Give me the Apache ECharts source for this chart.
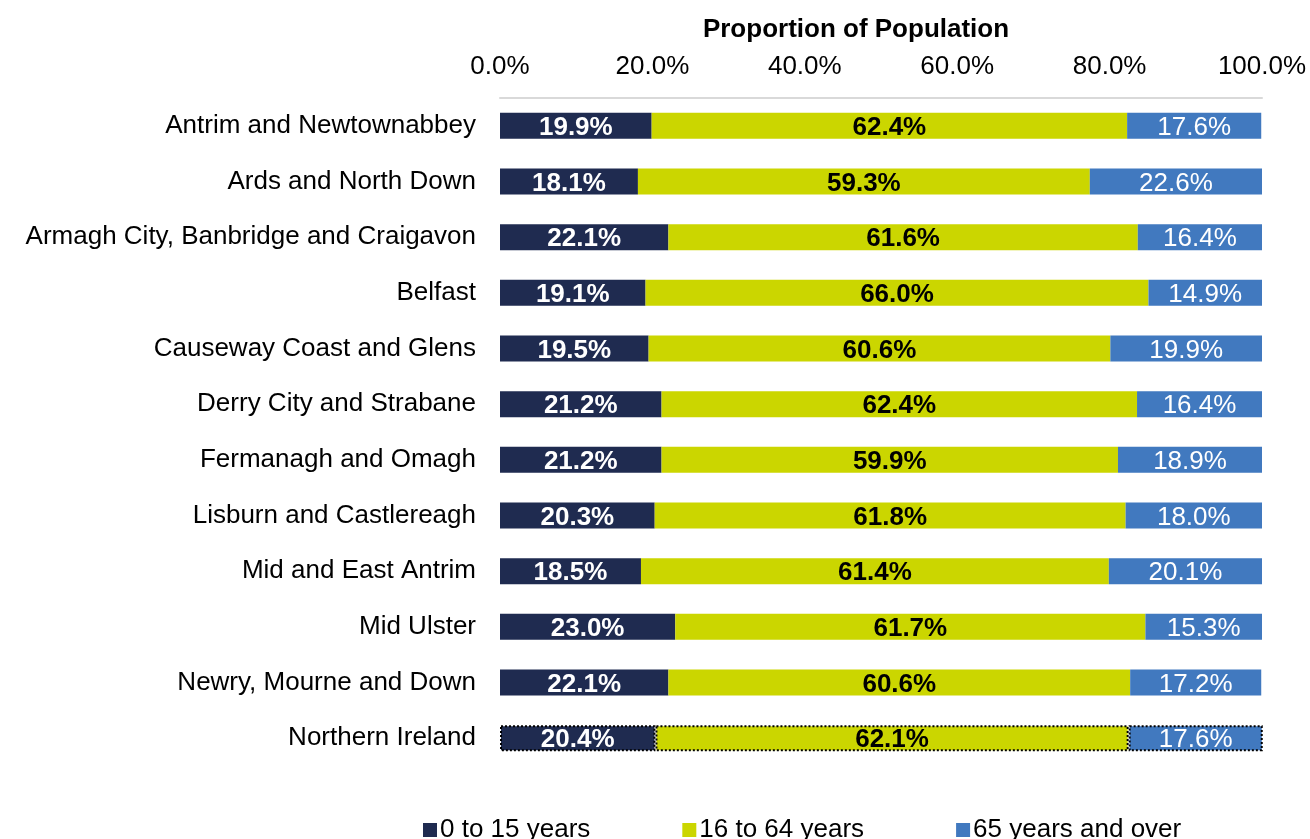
<!DOCTYPE html>
<html>
<head>
<meta charset="utf-8">
<script src="https://cdn.jsdelivr.net/npm/echarts@6/dist/echarts.min.js"></script>
<style>
  html, body { margin: 0; padding: 0; background: #fff; }
  #chart { width: 1310px; height: 839px; }
</style>
</head>
<body>
<div id="chart"></div>
<script>
const areas = [
    'Antrim and Newtownabbey',
    'Ards and North Down',
    'Armagh City, Banbridge and Craigavon',
    'Belfast',
    'Causeway Coast and Glens',
    'Derry City and Strabane',
    'Fermanagh and Omagh',
    'Lisburn and Castlereagh',
    'Mid and East Antrim',
    'Mid Ulster',
    'Newry, Mourne and Down',
    'Northern Ireland'
];
const age0to15 = [19.9, 18.1, 22.1, 19.1, 19.5, 21.2, 21.2, 20.3, 18.5, 23.0, 22.1, 20.4];
const age16to64 = [62.4, 59.3, 61.6, 66.0, 60.6, 62.4, 59.9, 61.8, 61.4, 61.7, 60.6, 62.1];
const age65plus = [17.6, 22.6, 16.4, 14.9, 19.9, 16.4, 18.9, 18.0, 20.1, 15.3, 17.2, 17.6];

const font = 'Arial, "Liberation Sans", sans-serif';
const fs = 26;
const pct = v => v.toFixed(1) + '%';

// the Northern Ireland total gets a dotted outline
const withBorder = values => values.map((v, i) => {
    if (areas[i] !== 'Northern Ireland') return v;
    return {
        value: v,
        itemStyle: { borderColor: '#000', borderWidth: 2, borderType: [2, 2] }
    };
});

const makeSeries = (name, values, color, textColor, bold) => ({
    name: name,
    type: 'bar',
    stack: 'total',
    barWidth: 26,
    data: withBorder(values),
    itemStyle: { color: color },
    label: {
        show: true,
        position: 'inside',
        offset: [0, 2],
        color: textColor,
        fontFamily: font,
        fontSize: fs,
        fontWeight: bold ? 'bold' : 'normal',
        formatter: p => pct(p.value)
    }
});

const myChart = echarts.init(document.getElementById('chart'));
const option = {
    animation: false,
    textStyle: { fontFamily: font },
    grid: { left: 500, right: 48, top: 98, bottom: 73 },
    legend: {
        bottom: -9,
        left: 418,
        itemGap: 92,
        itemWidth: 14,
        itemHeight: 14,
        icon: 'rect',
        textStyle: { fontSize: fs, color: '#000', fontFamily: font, padding: [0, 0, 0, -2] },
        data: ['0 to 15 years', '16 to 64 years', '65 years and over']
    },
    xAxis: {
        type: 'value',
        position: 'top',
        min: 0,
        max: 100,
        interval: 20,
        name: 'Proportion of Population',
        nameLocation: 'middle',
        nameGap: 55,
        nameTextStyle: {
            fontSize: fs, fontWeight: 'bold', color: '#000', fontFamily: font,
            padding: [0, 50, 0, 0]
        },
        axisLine: { show: true, lineStyle: { color: '#d9d9d9', width: 2 } },
        axisTick: { show: false },
        splitLine: { show: false },
        axisLabel: {
            fontSize: fs,
            color: '#000',
            margin: 18,
            fontFamily: font,
            formatter: v => pct(v)
        }
    },
    yAxis: {
        type: 'category',
        inverse: true,
        data: areas,
        axisLine: { show: false },
        axisTick: { show: false },
        axisLabel: { fontSize: fs, color: '#000', margin: 24, fontFamily: font }
    },
    series: [
        makeSeries('0 to 15 years', age0to15, '#1f2b50', '#fff', true),
        makeSeries('16 to 64 years', age16to64, '#cbd600', '#000', true),
        makeSeries('65 years and over', age65plus, '#4179bf', '#fff', false)
    ]
};
myChart.setOption(option);
</script>
</body>
</html>
